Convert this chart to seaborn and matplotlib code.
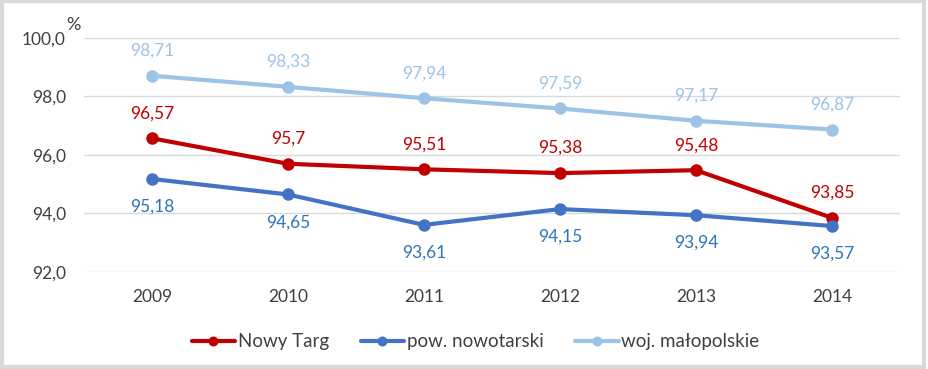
import pandas as pd
import seaborn as sns
import matplotlib.pyplot as plt

years = ['2009', '2010', '2011', '2012', '2013', '2014']
nowy_targ = [96.57, 95.70, 95.51, 95.38, 95.48, 93.85]
pow_nowotarski = [95.18, 94.65, 93.61, 94.15, 93.94, 93.57]
woj_malopolskie = [98.71, 98.33, 97.94, 97.59, 97.17, 96.87]
series_names = ['Nowy Targ', 'pow. nowotarski', 'woj. małopolskie']
y_ticks = [92, 94, 96, 98, 100]

line_colors = ['#C00000', '#4472C4', '#9DC3E6']
label_colors = ['#C00000', '#2E75B6', '#9DC3E6']
label_pos = ['above', 'below', 'above']

df = pd.DataFrame({
    'rok': years * 3,
    'wartosc': nowy_targ + pow_nowotarski + woj_malopolskie,
    'seria': [s for s in series_names for _ in years],
})

sns.set_theme(style='white')
plt.rcParams['font.family'] = ['Lato', 'DejaVu Sans']

fig = plt.figure(figsize=(9.29, 3.69), dpi=100)
ax = fig.add_axes([0.0904, 0.263, 0.8784, 0.634])
fig.patches.append(plt.Rectangle((0.002, 0.005), 0.993, 0.991, transform=fig.transFigure,
                                 fill=False, edgecolor='#D9D9D9', linewidth=3))

sns.lineplot(data=df, x='rok', y='wartosc', hue='seria', palette=line_colors,
             marker='o', markersize=9, markeredgewidth=0, linewidth=3, ax=ax, sort=False)

def fmt(v):
    s = f'{v:.2f}'.rstrip('0').rstrip('.')
    return s.replace('.', ',')

for vals, col, pos in zip([nowy_targ, pow_nowotarski, woj_malopolskie], label_colors, label_pos):
    for i, v in enumerate(vals):
        off = 18 if pos == 'above' else -20
        ax.annotate(fmt(v), (i, v), xytext=(0, off), textcoords='offset points',
                    ha='center', va='center', color=col, fontsize=12.5)

ax.set_ylim(92, 100)
ax.set_xlim(-0.5, 5.5)
ax.set_yticks(y_ticks)
ax.set_yticklabels([f'{t:.1f}'.replace('.', ',') for t in y_ticks])
ax.yaxis.grid(True, color='#D9D9D9', linewidth=1)
ax.set_xlabel('')
ax.set_ylabel('')
for sp in ax.spines.values():
    sp.set_visible(False)
ax.tick_params(axis='both', labelsize=12.5, colors='#404040', length=0)
ax.tick_params(axis='y', pad=13)
ax.tick_params(axis='x', pad=12)
ax.text(-0.022, 1.035, '%', transform=ax.transAxes, fontsize=13, color='#404040', ha='left')

ax.legend(loc='upper center', bbox_to_anchor=(0.48, -0.19), ncol=3, frameon=False,
          fontsize=13.5, handlelength=2.3, columnspacing=1.7, handletextpad=0.15,
          labelcolor='#404040', markerscale=0.8)

fig.savefig('out.png', dpi=100)
